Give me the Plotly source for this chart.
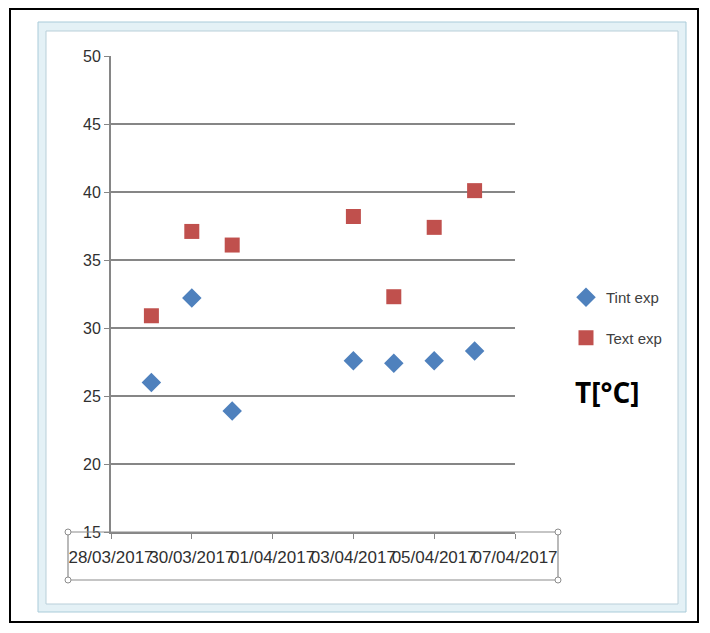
import plotly.graph_objects as go

# ── data ─────────────────────────────────────────
dates = ['2017-03-29', '2017-03-30', '2017-03-31',
         '2017-04-03', '2017-04-04', '2017-04-05', '2017-04-06']
tint_exp = [26.0, 32.2, 23.9, 27.6, 27.4, 27.6, 28.3]
text_exp = [30.9, 37.1, 36.1, 38.2, 32.3, 37.4, 40.1]

tick_dates = ['2017-03-28', '2017-03-30', '2017-04-01',
              '2017-04-03', '2017-04-05', '2017-04-07']
tick_text = ['28/03/2017', '30/03/2017', '01/04/2017',
             '03/04/2017', '05/04/2017', '07/04/2017']

# ── layout geometry (screen pixels; page body adds an 8px margin) ──
OFF = 8
W, H = 710 - OFF, 633 - OFF
L, T = 111 - OFF, 56 - OFF
R = W - (515 - OFF)
B = H - (532 - OFF)
PW, PH = W - L - R, H - T - B


def px(x):
    return (x - OFF - L) / PW


def py(y):
    return (H - B - (y - OFF)) / PH


def rect(x0, y0, x1, y1, **kw):
    return dict(type='rect', xref='paper', yref='paper',
                x0=px(x0), x1=px(x1), y0=py(y1), y1=py(y0), **kw)


def handle(x, y, r=3):
    return dict(type='circle', xref='paper', yref='paper',
                x0=px(x - r), x1=px(x + r), y0=py(y + r), y1=py(y - r),
                line=dict(color='#8c8c8c', width=1), fillcolor='white', layer='above')


fig = go.Figure()
fig.add_trace(go.Scatter(
    x=dates, y=tint_exp, mode='markers', name='Tint exp', legendgroup='a',
    marker=dict(symbol='diamond', size=15, color='#4f81bd'),
))
fig.add_trace(go.Scatter(
    x=dates, y=text_exp, mode='markers', name='Text exp', legendgroup='b',
    marker=dict(symbol='square', size=15, color='#c0504d'),
))

shapes = [
    # excel selection frame
    rect(38, 22, 686, 612, line=dict(color='#a9cbd9', width=1),
         fillcolor='#e4f1f6', layer='below'),
    rect(46, 31, 678, 604, line=dict(color='#b9cfd9', width=1),
         fillcolor='white', layer='below'),
    # x-axis label box
    rect(68, 532, 558, 580, line=dict(color='#8c8c8c', width=1.2), layer='above'),
    handle(68, 532), handle(558, 532), handle(68, 580), handle(558, 580),
    # outer black border
    rect(10, 9, 698, 622, line=dict(color='black', width=2), layer='above'),
]

fig.update_layout(
    width=W, height=H,
    margin=dict(l=L, r=R, t=T, b=B),
    paper_bgcolor='white',
    plot_bgcolor='rgba(0,0,0,0)',
    font=dict(family='Liberation Sans', size=15, color='#404040'),
    showlegend=True,
    legend=dict(x=px(566), y=py(281), xanchor='left', yanchor='top',
                traceorder='grouped', tracegroupgap=18,
                font=dict(size=15, color='#404040'),
                bgcolor='rgba(0,0,0,0)'),
    shapes=shapes,
    annotations=[dict(text='<b>T[°C]</b>', xref='paper', yref='paper',
                      x=px(607), y=py(392), xanchor='center', yanchor='middle',
                      showarrow=False,
                      font=dict(family='Open Sans', size=28, color='black'))],
)

fig.update_xaxes(
    type='date', range=['2017-03-28', '2017-04-07'],
    tickvals=tick_dates, ticktext=tick_text, tickangle=0,
    tickfont=dict(size=17, color='#303030'),
    showgrid=False, zeroline=False,
    showline=True, linecolor='#868686', linewidth=2,
    ticks='outside', ticklen=5, tickcolor='#868686',
    ticklabelstandoff=4,
)
fig.update_yaxes(
    range=[15, 50], dtick=5, tick0=15,
    showgrid=True, gridcolor='#868686', gridwidth=2,
    zeroline=False,
    showline=True, linecolor='#868686', linewidth=2,
    ticks='outside', ticklen=5, tickcolor='#868686',
    tickfont=dict(size=16, color='#303030'),
)

fig.write_html('out.html')
